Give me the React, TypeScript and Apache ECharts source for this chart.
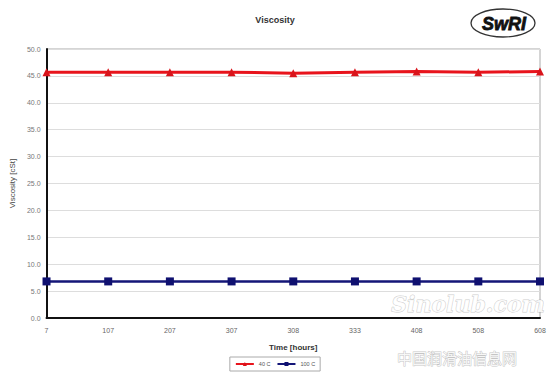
import React, { useEffect, useRef } from "react";
import * as echarts from "echarts";

const categories = ["7", "107", "207", "307", "308", "333", "408", "508", "608"];
const visc40 = [45.7, 45.7, 45.7, 45.7, 45.5, 45.7, 45.8, 45.7, 45.8];
const visc100 = [6.8, 6.8, 6.8, 6.8, 6.8, 6.8, 6.8, 6.8, 6.8];
const seriesNames = ["40 C", "100 C"];

export default function App() {
  const ref = useRef<HTMLDivElement>(null);
  useEffect(() => {
    const chart = echarts.init(ref.current!, null, { renderer: "svg" });
    const font = "Liberation Sans, Arial, sans-serif";
    chart.setOption({
      animation: false,
      backgroundColor: "#ffffff",
      textStyle: { fontFamily: font },
      title: {
        text: "Viscosity",
        left: "center",
        top: 10,
        textStyle: { fontSize: 9, fontWeight: "bold", color: "#333", fontFamily: font },
      },
      grid: {
        left: 42,
        right: 10,
        top: 49,
        bottom: 60,
        show: true,
        borderColor: "#aaaaaa",
        borderWidth: 1,
      },
      legend: {
        bottom: 7,
        left: "center",
        itemWidth: 18,
        itemHeight: 5,
        itemGap: 6,
        borderColor: "#aaa",
        borderWidth: 1,
        padding: [4, 5],
        textStyle: { fontSize: 5.5, color: "#555", fontFamily: font },
        data: seriesNames,
      },
      xAxis: {
        type: "category",
        data: categories,
        boundaryGap: false,
        name: "Time [hours]",
        nameLocation: "middle",
        nameGap: 25,
        nameTextStyle: { fontSize: 8, fontWeight: "bold", color: "#333" },
        axisLine: { lineStyle: { color: "#111", width: 2 } },
        axisTick: { show: false },
        axisLabel: { fontSize: 7, color: "#666", margin: 9, hideOverlap: false },
        splitLine: { show: false },
      },
      yAxis: {
        type: "value",
        min: 0,
        max: 50,
        interval: 5,
        name: "Viscosity [cSt]",
        nameLocation: "middle",
        nameGap: 20,
        nameTextStyle: { fontSize: 8, color: "#444" },
        axisLine: { show: true, lineStyle: { color: "#111", width: 2 } },
        axisTick: { show: false },
        axisLabel: {
          fontSize: 7,
          color: "#777",
          margin: 6,
          formatter: (v: number) => v.toFixed(1),
        },
        splitLine: { lineStyle: { color: "#dddddd", width: 1 } },
      },
      series: [
        {
          name: seriesNames[0],
          type: "line",
          data: visc40,
          symbol: "triangle",
          symbolSize: 8,
          lineStyle: { color: "#e8141c", width: 3 },
          itemStyle: { color: "#d9141b" },
        },
        {
          name: seriesNames[1],
          type: "line",
          data: visc100,
          symbol: "rect",
          symbolSize: 8,
          lineStyle: { color: "#141678", width: 2.5 },
          itemStyle: { color: "#0f1070" },
        },
      ],
      graphic: [
        {
          type: "ellipse",
          shape: { cx: 503, cy: 23, rx: 32, ry: 14 },
          style: { fill: "none", stroke: "#333", lineWidth: 1.3 },
        },
        {
          type: "text",
          x: 504,
          y: 24,
          style: {
            text: "SwRI",
            fontSize: 18,
            fontWeight: "bold",
            fontStyle: "italic",
            fill: "#111",
            stroke: "#111",
            lineWidth: 0.8,
            align: "center",
            verticalAlign: "middle",
            fontFamily: font,
          },
        },
        {
          type: "text",
          x: 468,
          y: 304,
          style: {
            text: "Sinolub.com",
            fontSize: 22,
            fontStyle: "italic",
            fontWeight: "bold",
            fill: "rgba(255,255,255,0.85)",
            stroke: "rgba(140,140,140,0.45)",
            lineWidth: 1,
            align: "center",
            verticalAlign: "middle",
            fontFamily: "DejaVu Serif, serif",
          },
        },
        {
          type: "text",
          x: 457,
          y: 357,
          style: {
            text: "中国润滑油信息网",
            fontSize: 15,
            fill: "rgba(255,255,255,0.9)",
            stroke: "rgba(140,140,140,0.5)",
            lineWidth: 1,
            align: "center",
            verticalAlign: "middle",
            fontFamily: "Noto Sans CJK SC, sans-serif",
          },
        },
      ],
    });
    return () => chart.dispose();
  }, []);
  return (
    <div
      ref={ref}
      style={{ position: "absolute", left: 0, top: 0, width: 550, height: 378 }}
    />
  );
}
